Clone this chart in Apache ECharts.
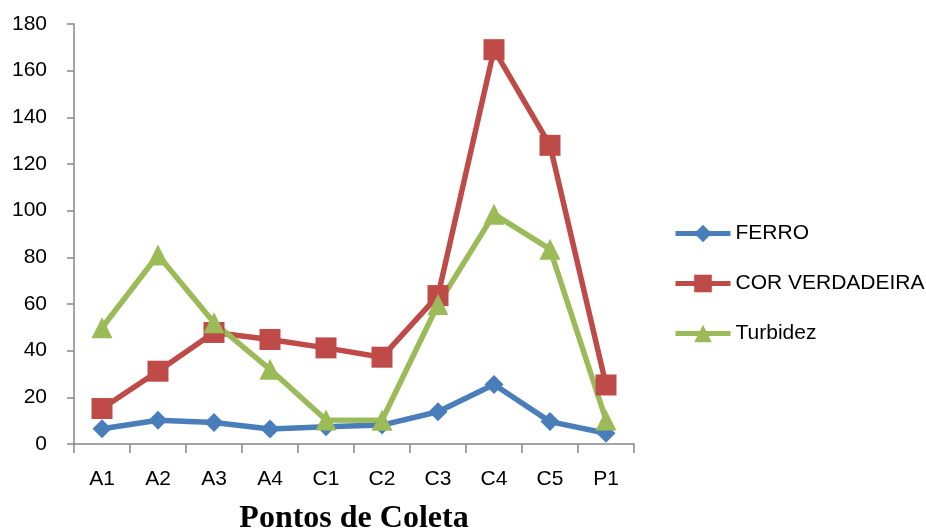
<!DOCTYPE html>
<html>
<head>
<meta charset="utf-8">
<script src="https://cdn.jsdelivr.net/npm/echarts@6/dist/echarts.min.js"></script>
<style>
html,body{margin:0;padding:0;background:#fff;}
#chart{width:926px;height:532px;}
</style>
</head>
<body>
<div id="chart"></div>
<script>
const categories = ['A1','A2','A3','A4','C1','C2','C3','C4','C5','P1'];
const ferro = [6.5, 10.2, 9.2, 6.4, 7.4, 8.1, 13.8, 25.5, 9.6, 4.6];
const corVerdadeira = [15.2, 31.2, 47.8, 44.8, 41.2, 37.2, 63.6, 169, 128, 25.3];
const turbidez = [49.8, 81, 52, 32, 10.3, 10.2, 59.8, 98.5, 83.5, 10.3];
const yTicks = [0, 20, 40, 60, 80, 100, 120, 140, 160, 180];

const axisGray = '#868686';
const chart = echarts.init(document.getElementById('chart'), null, {renderer: 'canvas'});
function mk(name, data, color, symbol, size) {
  return {
    name, type: 'line', data, symbol, symbolSize: size,
    showAllSymbol: true,
    lineStyle: {color, width: 5.5},
    itemStyle: {color},
    emphasis: {disabled: true},
    animation: false
  };
}
chart.setOption({
  animation: false,
  grid: {left: 74, right: 292, top: 24, bottom: 88, containLabel: false, outerBoundsMode: 'none'},
  legend: {
    orient: 'vertical',
    left: 673, top: 223, padding: 0,
    itemWidth: 55, itemHeight: 22, itemGap: 29,
    lineStyle: {width: 5},
    textStyle: {fontFamily: 'Liberation Sans', fontSize: 21, color: '#000'},
    data: ['FERRO', 'COR VERDADEIRA', 'Turbidez']
  },
  xAxis: {
    type: 'category',
    data: categories,
    boundaryGap: true,
    axisLine: {lineStyle: {color: axisGray, width: 1.5}},
    axisTick: {show: true, length: 9, alignWithLabel: false, lineStyle: {color: axisGray, width: 1.5}},
    axisLabel: {fontFamily: 'Liberation Sans', fontSize: 21, color: '#000', margin: 25},
    name: 'Pontos de Coleta',
    nameLocation: 'middle',
    nameGap: 59,
    nameTextStyle: {fontFamily: 'Liberation Serif', fontWeight: 'bold', fontSize: 32, color: '#000'}
  },
  yAxis: {
    type: 'value',
    min: 0, max: 180, interval: 20,
    splitLine: {show: false},
    axisLine: {show: true, lineStyle: {color: axisGray, width: 1.5}},
    axisTick: {show: true, length: 7, lineStyle: {color: axisGray, width: 1.5}},
    axisLabel: {fontFamily: 'Liberation Sans', fontSize: 21, color: '#000', margin: 27,
      formatter: v => yTicks.includes(v) ? String(v) : ''}
  },
  series: [
    mk('FERRO', ferro, '#4A7EBB', 'diamond', 19),
    mk('COR VERDADEIRA', corVerdadeira, '#BE4B48', 'rect', 21),
    mk('Turbidez', turbidez, '#9BBB59', 'triangle', 21)
  ]
});
</script>
</body>
</html>
